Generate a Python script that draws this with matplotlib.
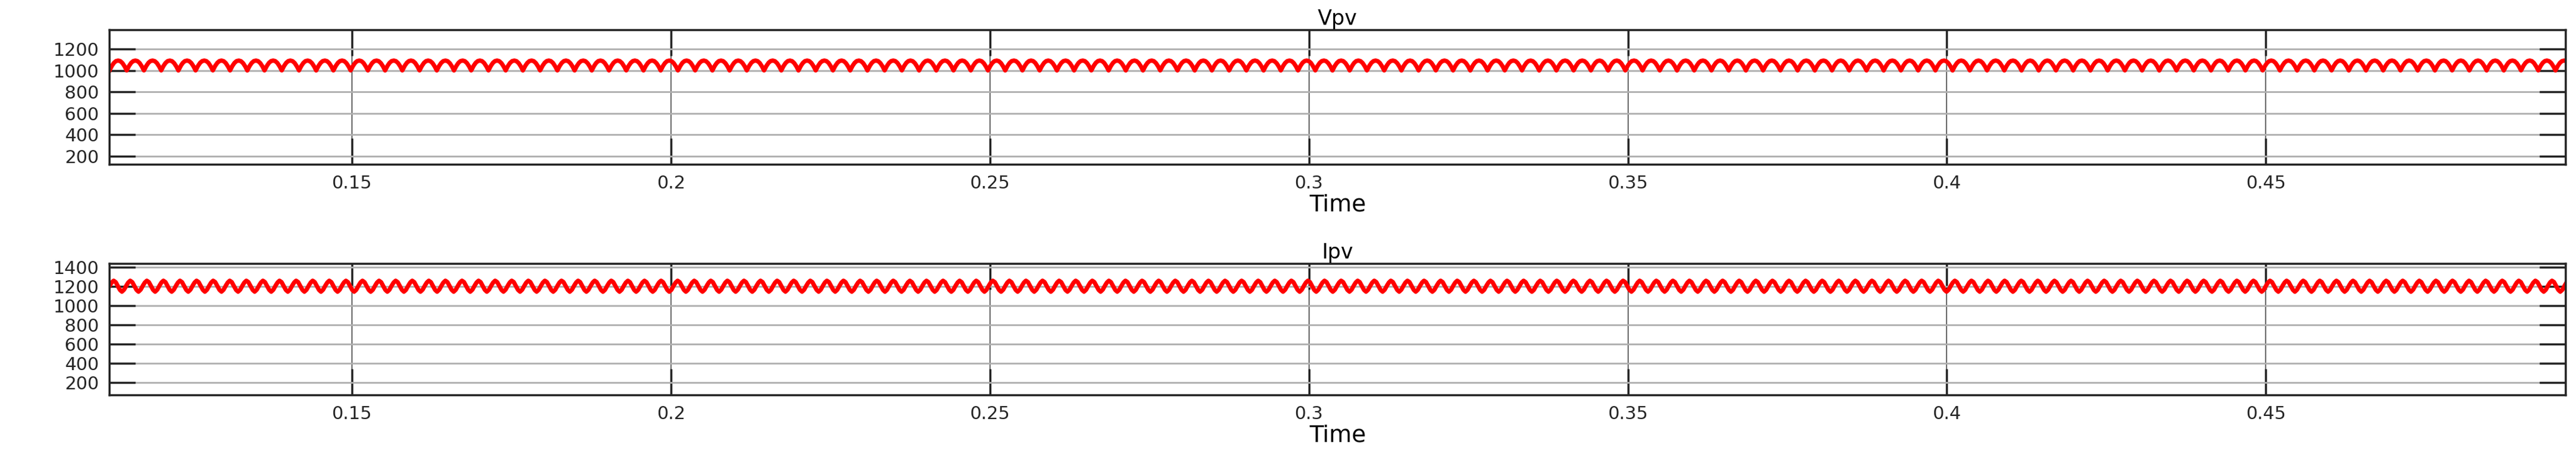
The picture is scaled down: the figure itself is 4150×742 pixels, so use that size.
import matplotlib.pyplot as plt
import numpy as np

# Time window and ripple periods
t_start, t_end = 0.112, 0.497
vpv_period = 0.0027
ipv_period = 0.0026

# One ripple cycle of each signal, sampled by eye
vpv_cycle = [1000, 1040, 1070, 1088, 1093, 1088, 1070, 1040, 1000]
ipv_cycle = [1205, 1240, 1260, 1245, 1205, 1165, 1145, 1165, 1205]

x_ticks = [0.15, 0.2, 0.25, 0.3, 0.35, 0.4, 0.45]
x_tick_labels = ['0.15', '0.2', '0.25', '0.3', '0.35', '0.4', '0.45']
vpv_yticks = [200, 400, 600, 800, 1000, 1200]
ipv_yticks = [200, 400, 600, 800, 1000, 1200, 1400]


def ripple(cycle, period):
    t = np.linspace(t_start, t_end, 20000)
    phase = ((t - t_start) / period) % 1.0
    return t, np.interp(phase, np.linspace(0, 1, len(cycle)), cycle)


def style(ax, title, yticks, ylim):
    ax.set_xlim(t_start, t_end)
    ax.set_ylim(*ylim)
    ax.set_xticks(x_ticks)
    ax.set_xticklabels(x_tick_labels)
    ax.set_yticks(yticks)
    ax.tick_params(direction='in', length=30, width=2.5, labelsize=21,
                   top=True, right=True, colors='#262626', pad=12)
    ax.yaxis.grid(True, color='#b0b0b0', lw=2)
    ax.xaxis.grid(True, color='#505050', lw=1.2)
    for s in ax.spines.values():
        s.set_linewidth(2.5)
        s.set_color('#262626')
    ax.set_title(title, fontsize=24, pad=6)
    ax.set_xlabel('Time', fontsize=27, labelpad=2)


fig = plt.figure(figsize=(41.5, 7.42), dpi=100)
ax1 = fig.add_axes([0.0425, 1 - 265 / 742, 0.9535, 217 / 742])
ax2 = fig.add_axes([0.0425, 1 - 637 / 742, 0.9535, 212 / 742])

t, v = ripple(vpv_cycle, vpv_period)
ax1.plot(t, v, color='red', lw=5)
style(ax1, 'Vpv', vpv_yticks, (125, 1380))

t, i = ripple(ipv_cycle, ipv_period)
ax2.plot(t, i, color='red', lw=5)
style(ax2, 'Ipv', ipv_yticks, (71, 1439))

fig.savefig('out.png', dpi=100)
